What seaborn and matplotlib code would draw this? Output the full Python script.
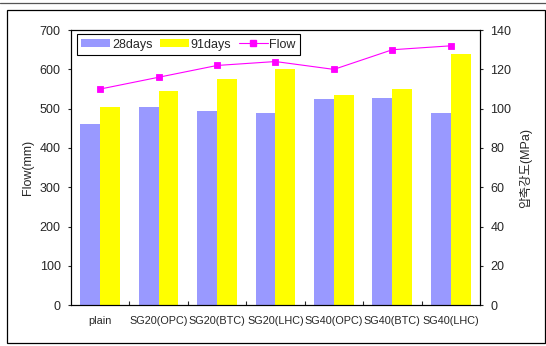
import numpy as np
import pandas as pd
import seaborn as sns
import matplotlib.pyplot as plt
from matplotlib.patches import Patch, Rectangle
from matplotlib.lines import Line2D

sns.set_style('ticks')
plt.rcParams['font.family'] = ['Liberation Sans', 'Noto Sans CJK KR', 'DejaVu Sans']

# data
mixes = ['plain', 'SG20(OPC)', 'SG20(BTC)', 'SG20(LHC)', 'SG40(OPC)', 'SG40(BTC)', 'SG40(LHC)']
strength_28 = [92.2, 101.0, 98.8, 97.8, 105.0, 105.4, 97.8]    # MPa
strength_91 = [101.0, 109.0, 115.2, 120.0, 107.0, 110.0, 128.0]  # MPa
flow = [550, 580, 610, 620, 600, 650, 660]                        # mm
ages = ['28days', '91days']

df = pd.DataFrame({
    'mix': mixes * 2,
    'age': [ages[0]] * len(mixes) + [ages[1]] * len(mixes),
    'strength': strength_28 + strength_91,
})

c28 = '#9999FF'
c91 = '#FFFF00'
cflow = '#FF00FF'

fig = plt.figure(figsize=(5.46, 3.46), dpi=100)
ax = fig.add_axes([0.130, 0.118, 0.749, 0.795])
ax2 = ax.twinx()

# bars on the strength axis (right)
sns.barplot(data=df, x='mix', y='strength', hue='age', palette=[c28, c91],
            width=0.68, saturation=1, errorbar=None, legend=False, ax=ax2,
            linewidth=0)

# flow line on the left axis, drawn above the bars
sns.pointplot(x=mixes, y=flow, color=cflow, markers='s', errorbar=None,
              markersize=4.5, linewidth=0.8, ax=ax)
ax.set_zorder(ax2.get_zorder() + 1)
ax.patch.set_visible(False)

ax.set_ylim(0, 700)
ax2.set_ylim(0, 140)
ax.set_xlim(-0.5, len(mixes) - 0.5)
ax.set_yticks(np.arange(0, 701, 100))
ax2.set_yticks(np.arange(0, 141, 20))

ax.set_xticks(range(len(mixes)))
ax.set_xticklabels(mixes, fontsize=7.8)
ax.set_xticks(np.arange(0.5, len(mixes) - 1, 1), minor=True)
ax.tick_params(axis='x', which='major', length=0, pad=7.5)
ax.tick_params(axis='x', which='minor', length=3, direction='in', width=0.8)
ax.tick_params(axis='y', labelsize=9, length=2.5, width=0.8, pad=5)
ax2.tick_params(axis='y', labelsize=9, length=2.5, width=0.8, pad=5)

ax.set_xlabel('')
ax2.set_xlabel('')
ax.set_ylabel('Flow(mm)', fontsize=9)
ax2.set_ylabel('압축강도(MPa)', fontsize=9)
ax.yaxis.set_label_coords(-0.09, 0.5)
ax2.yaxis.set_label_coords(1.095, 0.5)

for a in (ax, ax2):
    for s in a.spines.values():
        s.set_visible(True)
        s.set_color('black')
        s.set_linewidth(0.8)

handles = [
    Patch(facecolor=c28, edgecolor='none', label='28days'),
    Patch(facecolor=c91, edgecolor='none', label='91days'),
    Line2D([], [], color=cflow, marker='s', markersize=4.5, linewidth=0.8, label='Flow'),
]
leg = ax.legend(handles=handles, ncol=3, loc='upper left', bbox_to_anchor=(0.015, 0.985),
                fontsize=9, frameon=True, fancybox=False, framealpha=1,
                handlelength=2.3, handleheight=0.6, handletextpad=0.15,
                columnspacing=0.6, borderpad=0.35, borderaxespad=0)
leg.get_frame().set_edgecolor('black')
leg.get_frame().set_linewidth(0.8)

# outer frame and top rule
fig.add_artist(Rectangle((7 / 546, 1 - 343 / 346), 538 / 546, 333 / 346,
                         transform=fig.transFigure, fill=False, edgecolor='black', linewidth=0.9))
fig.add_artist(Line2D([0, 1], [1 - 2.5 / 346] * 2, transform=fig.transFigure,
                      color='#555555', linewidth=0.9))

fig.savefig('out.png', dpi=100)
